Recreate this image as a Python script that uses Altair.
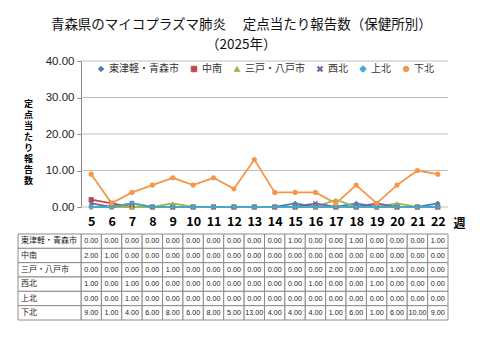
import altair as alt
import pandas as pd

# ---- data ----
weeks = list(range(5, 23))
districts = ["東津軽・青森市", "中南", "三戸・八戸市", "西北", "上北", "下北"]
higashitsugaru_aomori = [0, 0, 0, 0, 0, 0, 0, 0, 0, 0, 1, 0, 0, 1, 0, 0, 0, 1]
chunan = [2, 1, 0, 0, 0, 0, 0, 0, 0, 0, 0, 0, 0, 0, 0, 0, 0, 0]
sannohe_hachinohe = [0, 0, 0, 0, 1, 0, 0, 0, 0, 0, 0, 0, 2, 0, 0, 1, 0, 0]
seihoku = [1, 0, 1, 0, 0, 0, 0, 0, 0, 0, 0, 1, 0, 0, 1, 0, 0, 0]
kamikita = [0, 0, 1, 0, 0, 0, 0, 0, 0, 0, 0, 0, 0, 0, 0, 0, 0, 0]
shimokita = [9, 1, 4, 6, 8, 6, 8, 5, 13, 4, 4, 4, 1, 6, 1, 6, 10, 9]
y_ticks = [0, 10, 20, 30, 40]

series = [higashitsugaru_aomori, chunan, sannohe_hachinohe, seihoku, kamikita, shimokita]
colors = ["#4A7EBB", "#BE4B48", "#98B954", "#7D60A0", "#46AAC5", "#F79646"]
x_path = "M-1,-0.6L-0.6,-1L0,-0.4L0.6,-1L1,-0.6L0.4,0L1,0.6L0.6,1L0,0.4L-0.6,1L-1,0.6L-0.4,0Z"
shapes = ["diamond", "square", "triangle-up", x_path, "cross", "circle"]

JP = "Noto Sans CJK JP"
NUM = "Liberation Sans"

X_MIN, X_MAX = 1.41, 22.5   # left edge of table label column .. right edge
FIRST_EDGE = 4.5

rows = []
for d, vals in zip(districts, series):
    for w, v in zip(weeks, vals):
        rows.append({"district": d, "week": w, "value": v})
df = pd.DataFrame(rows)

grid_df = pd.DataFrame({"value": y_ticks})

xscale = alt.Scale(domain=[X_MIN, X_MAX], nice=False, zero=False)
yscale = alt.Scale(domain=[0, 40], nice=False)

x_axis = alt.Axis(values=weeks, format="d", domain=False, ticks=False, grid=False,
                  labelFontSize=12.5, labelFontWeight="bold", labelFont=JP, labelColor="#000",
                  labelPadding=8, labelOverlap=False, labelFlush=False,
                  title="週", titleX=441, titleY=16, titleAlign="center", titleBaseline="middle",
                  titleFontSize=12, titleFontWeight="bold", titleFont=JP, titleColor="#000")
y_axis = alt.Axis(values=y_ticks, format=".2f", grid=False, offset=-63,
                  domainColor="#868686", tickColor="#868686", tickSize=4,
                  labelFontSize=11.5, labelColor="#222", labelFont=NUM, labelPadding=3,
                  title=list("定点当たり報告数"), titleAngle=0, titleX=-53, titleY=38,
                  titleAlign="center", titleBaseline="top", titleFontSize=9,
                  titleFontWeight="bold", titleFont=JP, titleLineHeight=11, titleColor="#000")

grid = alt.Chart(grid_df).transform_calculate(
    week=str(FIRST_EDGE), week_end=str(X_MAX)
).mark_rule(color="#BFBFBF", strokeWidth=1).encode(
    x=alt.X("week:Q", scale=xscale, axis=x_axis),
    x2="week_end:Q",
    y=alt.Y("value:Q", scale=yscale, axis=y_axis),
)

color_enc = alt.Color("district:N", scale=alt.Scale(domain=districts, range=colors), title=None)
shape_enc = alt.Shape("district:N", scale=alt.Scale(domain=districts, range=shapes), title=None)

lines = alt.Chart(df).mark_line(strokeWidth=1.8).encode(
    x=alt.X("week:Q", scale=xscale, axis=x_axis),
    y=alt.Y("value:Q", scale=yscale, axis=y_axis),
    color=color_enc,
    detail="district:N",
)
points = alt.Chart(df).mark_point(filled=True, size=26, opacity=1).encode(
    x=alt.X("week:Q", scale=xscale, axis=x_axis),
    y=alt.Y("value:Q", scale=yscale, axis=y_axis),
    color=color_enc,
    shape=shape_enc,
)

top = alt.layer(grid, lines, points).properties(width=430, height=146)

# ---- table ----
label_df = pd.DataFrame({"district": districts})
ytab = alt.Y("district:N", sort=districts, scale=alt.Scale(paddingInner=0, paddingOuter=0), axis=None)

cells = alt.Chart(df).transform_calculate(
    x0="datum.week - 0.5", x1="datum.week + 0.5"
).mark_rect(fill="white", stroke="#8C8C8C", strokeWidth=1).encode(
    x=alt.X("x0:Q", scale=xscale, axis=None), x2="x1:Q", y=ytab
)
label_cells = alt.Chart(label_df).transform_calculate(
    x0=str(X_MIN), x1=str(FIRST_EDGE)
).mark_rect(fill="white", stroke="#8C8C8C", strokeWidth=1).encode(
    x=alt.X("x0:Q", scale=xscale, axis=None), x2="x1:Q", y=ytab
)
cell_text = alt.Chart(df).mark_text(fontSize=7.2, font=NUM, color="#222").encode(
    x=alt.X("week:Q", scale=xscale, axis=None), y=ytab,
    text=alt.Text("value:Q", format=".2f"),
)
label_text = alt.Chart(label_df).transform_calculate(
    x0=str(X_MIN)
).mark_text(fontSize=8, font=JP, color="#222", align="left", dx=3).encode(
    x=alt.X("x0:Q", scale=xscale, axis=None), y=ytab, text="district:N"
)
table = alt.layer(cells, label_cells, cell_text, label_text).properties(width=430, height=86)

chart = alt.vconcat(top, table, spacing=27, bounds="flush").resolve_scale(
    x="independent", y="independent", color="independent", shape="independent"
).properties(
    title=alt.TitleParams(
        ["青森県のマイコプラズマ肺炎　 定点当たり報告数（保健所別）", "（2025年）"],
        fontSize=13.5, fontWeight="normal", font=JP, color="#111", lineHeight=20,
        anchor="middle", offset=4,
    ),
    padding={"left": 9, "top": 9, "right": 5, "bottom": 5},
    background="white",
).configure_view(stroke=None).configure_legend(
    orient="none", legendX=78, legendY=3, direction="horizontal", columns=6,
    labelFontSize=10, labelFont=JP, labelColor="#333", symbolSize=30,
    columnPadding=10, labelOffset=3, symbolStrokeWidth=1,
)

chart.save("out.html", embed_options={"renderer": "svg", "actions": False})
